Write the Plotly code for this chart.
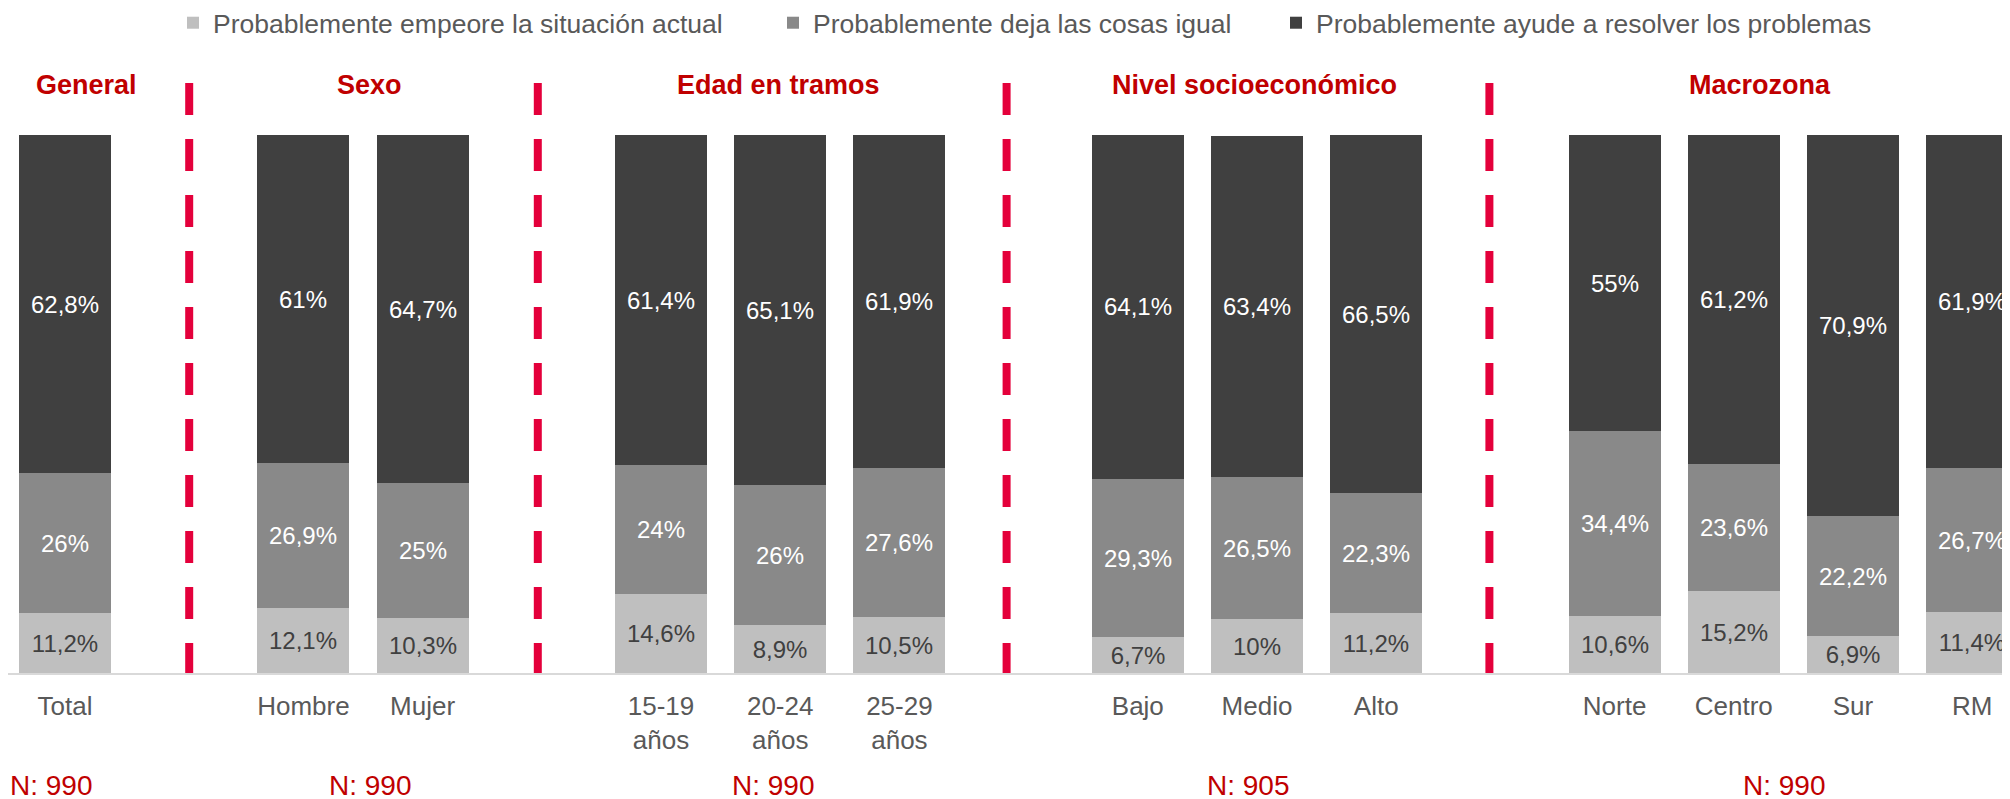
import plotly.graph_objects as go

# ---- data ----
group_names = ["General", "Sexo", "Edad en tramos", "Nivel socioeconómico", "Macrozona"]
group_n = ["N: 990", "N: 990", "N: 990", "N: 905", "N: 990"]
group_sizes = [1, 2, 3, 3, 4]
categories = ["Total", "Hombre", "Mujer", "15-19<br>años", "20-24<br>años", "25-29<br>años",
              "Bajo", "Medio", "Alto", "Norte", "Centro", "Sur", "RM"]
empeore = [11.2, 12.1, 10.3, 14.6, 8.9, 10.5, 6.7, 10, 11.2, 10.6, 15.2, 6.9, 11.4]
igual = [26, 26.9, 25, 24, 26, 27.6, 29.3, 26.5, 22.3, 34.4, 23.6, 22.2, 26.7]
ayude = [62.8, 61, 64.7, 61.4, 65.1, 61.9, 64.1, 63.4, 66.5, 55, 61.2, 70.9, 61.9]
series_names = ["Probablemente empeore la situación actual",
                "Probablemente deja las cosas igual",
                "Probablemente ayude a resolver los problemas"]

# ---- styles ----
FONT = "Liberation Sans, Arial, sans-serif"
colors = ["#BFBFBF", "#898989", "#404040"]
text_colors = ["#404040", "#FFFFFF", "#FFFFFF"]
RED = "#C00000"
DASH_RED = "#E4003B"
GRAY_TXT = "#595959"

# slot positions: a blank slot separates groups
positions = []
sep_positions = []
group_centers = []
slot = 0
for gi, size in enumerate(group_sizes):
    if gi > 0:
        sep_positions.append(slot)
        slot += 1
    start = slot
    for _ in range(size):
        positions.append(slot)
        slot += 1
    group_centers.append((start + slot - 1) / 2)

def fmt(v):
    return f"{v:g}".replace(".", ",") + "%"

fig = go.Figure()
legend_ids = ["legend", "legend2", "legend3"]
for name, vals, col, tcol, lg in zip(series_names, [empeore, igual, ayude], colors, text_colors, legend_ids):
    fig.add_trace(go.Bar(
        x=positions, y=vals, name=name, marker=dict(color=col, line=dict(width=0)),
        width=0.772, text=[fmt(v) for v in vals], textposition="inside",
        insidetextanchor="middle", textangle=0,
        textfont=dict(family=FONT, size=24, color=tcol),
        legend=lg, hoverinfo="skip",
    ))

W, H = 2010, 799
PAGE = 8                      # page body margin offset
top_px, bot_px = 135 - PAGE, 673 - PAGE
plot_h = bot_px - top_px
slot_px = 119.2
left_edge = 5.4 - PAGE       # where slot -0.5 sits (figure px)
x_start = -0.5 - left_edge / slot_px
x_end = x_start + W / slot_px

# legends (one per series, placed along the top)
legend_left = [181 - 16, 781 - 16, 1284 - 16]
legend_common = dict(orientation="h", yref="container", xref="container", yanchor="middle",
                     xanchor="left", y=1 - (23 - PAGE) / H, bgcolor="rgba(0,0,0,0)",
                     font=dict(family=FONT, size=26.5, color=GRAY_TXT))
layout_legends = {}
for lg, lx in zip(legend_ids, legend_left):
    layout_legends[lg] = dict(legend_common, x=lx / W)

fig.update_layout(
    width=W, height=H, barmode="stack",
    plot_bgcolor="white", paper_bgcolor="white",
    margin=dict(l=0, r=0, t=top_px, b=H - bot_px),
    bargap=0, showlegend=True,
    uniformtext=dict(minsize=24, mode="show"),
    **layout_legends,
)
fig.update_xaxes(range=[x_start, x_end], tickvals=positions, ticktext=categories,
                 showgrid=False, zeroline=False, showline=True, linecolor="#D9D9D9", linewidth=2,
                 tickfont=dict(family=FONT, size=26, color=GRAY_TXT), ticks="",
                 ticklabelstandoff=9)
fig.update_yaxes(range=[0, 100], visible=False, showgrid=False)

# dashed separators
sep_offsets_px = [5, -4, -12, -6]
for sp, off in zip(sep_positions, sep_offsets_px):
    fig.add_shape(type="line", xref="x", yref="paper", xsizemode="pixel", xanchor=sp,
                  x0=off, x1=off, y0=(bot_px - (83 - PAGE)) / plot_h, y1=0,
                  line=dict(color=DASH_RED, width=8, dash="32px,24px"), layer="above")

# group headers and N labels
header_shift = [21, 6, -2, -3, -33]
n_shift = [-14, 7, -7, -9, -9]
for gc, gname, nlab, hs, ns in zip(group_centers, group_names, group_n, header_shift, n_shift):
    fig.add_annotation(x=gc, xref="x", y=(bot_px - (85 - PAGE)) / plot_h, yref="paper",
                       yanchor="middle", text=f"<b>{gname}</b>",
                       showarrow=False, xshift=hs, font=dict(family=FONT, size=27, color=RED))
    fig.add_annotation(x=gc, xref="x", y=(bot_px - (785 - PAGE)) / plot_h, yref="paper",
                       yanchor="middle", text=nlab,
                       showarrow=False, xshift=ns, font=dict(family=FONT, size=28, color=RED))

fig.write_html("out.html")
